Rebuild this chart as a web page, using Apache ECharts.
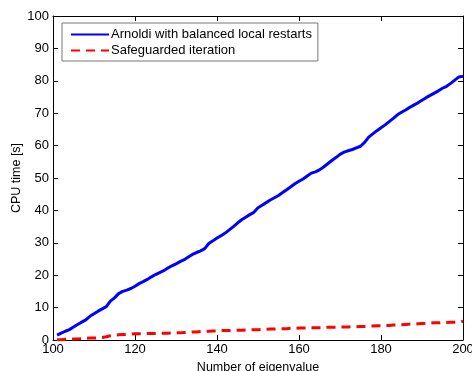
<!DOCTYPE html>
<html><head><meta charset="utf-8">
<script src="https://cdn.jsdelivr.net/npm/echarts@6/dist/echarts.min.js"></script>
<style>html,body{margin:0;padding:0;background:#fff}#c{width:472px;height:371px}</style>
</head><body><div id="c"></div>
<script>
var eigenNumbers = [];
for (var n = 101; n <= 200; n++) eigenNumbers.push(n);
var arnoldiTimes = [
1.5,2.1,2.7,3.2,4.0,4.8,5.5,6.2,7.3,8.1,
8.9,9.6,10.3,12.0,13.0,14.3,15.0,15.4,15.9,16.6,
17.4,18.0,18.7,19.5,20.2,20.8,21.4,22.2,22.9,23.5,
24.2,24.8,25.6,26.4,27.0,27.5,28.2,29.8,30.6,31.5,
32.2,33.0,34.0,35.0,36.1,37.1,37.9,38.7,39.4,40.8,
41.6,42.4,43.2,43.9,44.6,45.5,46.4,47.3,48.2,49.0,
49.7,50.6,51.5,51.9,52.5,53.4,54.4,55.4,56.3,57.3,
58.0,58.4,58.8,59.3,59.8,61.0,62.6,63.6,64.6,65.5,
66.4,67.4,68.4,69.5,70.3,71.0,71.8,72.5,73.2,74.0,
74.8,75.5,76.2,76.9,77.7,78.3,79.2,80.2,81.2,81.4];
var safeguardedTimes = [
0.1,0.1,0.2,0.2,0.3,0.3,0.4,0.5,0.6,0.6,
0.7,0.8,1.0,1.3,1.5,1.6,1.7,1.7,1.8,1.9,
1.9,1.9,2.0,2.0,2.0,2.1,2.1,2.1,2.2,2.2,
2.2,2.3,2.4,2.5,2.5,2.6,2.7,2.7,2.8,2.8,
2.9,2.9,2.9,3.0,3.0,3.0,3.1,3.1,3.2,3.2,
3.3,3.3,3.4,3.4,3.5,3.5,3.5,3.6,3.6,3.7,
3.7,3.7,3.8,3.8,3.8,3.8,3.9,3.9,3.9,4.0,
4.0,4.0,4.1,4.1,4.2,4.2,4.3,4.3,4.4,4.4,
4.5,4.5,4.6,4.6,4.7,4.8,4.9,5.0,5.0,5.1,
5.1,5.2,5.3,5.3,5.4,5.4,5.5,5.5,5.6,5.8];
var seriesNames = ['Arnoldi with balanced local restarts', 'Safeguarded iteration'];
var xTicks = [100, 120, 140, 160, 180, 200];
var yTicks = [0, 10, 20, 30, 40, 50, 60, 70, 80, 90, 100];

function pairs(vals) { return eigenNumbers.map(function (x, i) { return [x, vals[i]]; }); }
var font = 'Liberation Sans, Arial, sans-serif';
var chart = echarts.init(document.getElementById('c'));
var axisLine = { show: true, onZero: false, lineStyle: { color: '#000', width: 1 } };
var tick = { show: true, inside: true, length: 5, lineStyle: { color: '#000' } };
chart.setOption({
  animation: false,
  backgroundColor: '#fff',
  grid: { left: 53, right: 9, top: 16, bottom: 31, containLabel: false, outerBoundsMode: 'none' },
  xAxis: [
    { type: 'value', min: 100, max: 200, interval: 20, position: 'bottom',
      axisLine: axisLine, axisTick: tick, splitLine: { show: false },
      axisLabel: { color: '#000', fontFamily: font, fontSize: 13, margin: 3, hideOverlap: false },
      name: 'Number of eigenvalue', nameLocation: 'middle', nameGap: 21, nameMoveOverlap: false,
      nameTextStyle: { color: '#000', fontFamily: font, fontSize: 12.5 } },
    { type: 'value', min: 100, max: 200, interval: 20, position: 'top',
      axisLine: axisLine, axisTick: tick, splitLine: { show: false },
      axisLabel: { show: false } }
  ],
  yAxis: [
    { type: 'value', min: 0, max: 100, interval: 10, position: 'left',
      axisLine: axisLine, axisTick: tick, splitLine: { show: false },
      axisLabel: { color: '#000', fontFamily: font, fontSize: 13, margin: 4 },
      name: 'CPU time [s]', nameLocation: 'middle', nameGap: 30, nameRotate: 90, nameMoveOverlap: false,
      nameTextStyle: { color: '#000', fontFamily: font, fontSize: 12.5 } },
    { type: 'value', min: 0, max: 100, interval: 10, position: 'right',
      axisLine: axisLine, axisTick: tick, splitLine: { show: false },
      axisLabel: { show: false } }
  ],
  legend: {
    left: 62, top: 23, orient: 'vertical', itemGap: 3, itemWidth: 38, itemHeight: 10,
    padding: [5, 6, 4, 8],
    borderColor: '#777', borderWidth: 1, backgroundColor: '#fff',
    itemStyle: { opacity: 0 },
    textStyle: { color: '#000', fontFamily: font, fontSize: 13, padding: [0, 0, 0, -3] },
    data: seriesNames
  },
  series: [
    { name: seriesNames[0], type: 'line', data: pairs(arnoldiTimes), symbol: 'none',
      lineStyle: { color: '#0000ff', width: 3 }, itemStyle: { color: '#0000ff' } },
    { name: seriesNames[1], type: 'line', data: pairs(safeguardedTimes), symbol: 'none',
      lineStyle: { color: '#ff0000', width: 3, type: [9, 6] }, itemStyle: { color: '#ff0000' } }
  ]
});
</script></body></html>
